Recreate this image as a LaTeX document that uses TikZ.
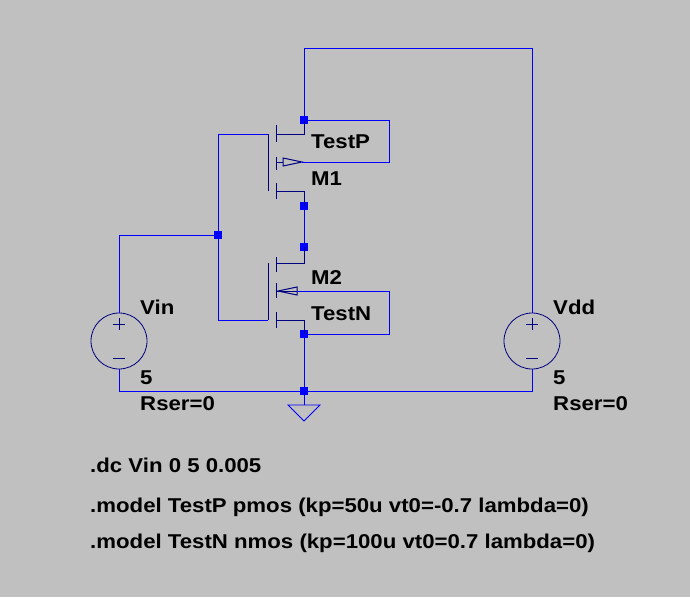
\documentclass[tikz,border=0pt]{standalone}
\usepackage{fontspec}
\setmainfont{Liberation Sans}
\begin{document}
\begin{tikzpicture}[x=1pt,y=-1pt,
  wire/.style={draw=wireblue,line width=1pt},
  sym/.style={draw=symblue,line width=1pt},
  dot/.style={fill=wireblue,minimum size=8pt,inner sep=0,draw=none,rectangle},
  lbl/.style={font=\bfseries\fontsize{20}{22}\selectfont,anchor=west,inner sep=0,xscale=1.11},
  src/.style={circle,draw=symblue,line width=0.8pt,minimum size=56pt,inner sep=0}]
\definecolor{wireblue}{RGB}{0,0,255}
\definecolor{symblue}{RGB}{0,0,128}
\definecolor{bg}{RGB}{192,192,192}
\fill[bg] (0,0) rectangle (690,597);
\useasboundingbox (0,0) rectangle (690,597);
% dots
\node[dot] (pd) at (304,120) {};
\node[dot] (ps) at (304,206) {};
\node[dot] (nd) at (304,247) {};
\node[dot] (ns) at (304,334) {};
\node[dot] (g) at (218,235) {};
\node[dot] (gnd) at (304,391) {};
\node[src] (vin) at (119,341) {};
\node[src] (vdd) at (532,341) {};
\coordinate (gndt) at (304,405);
% PMOS symbol
\draw[sym] (268,134) -- (268,191);
\draw[sym] (276,125) -- (276,142) (276,157) -- (276,170) (276,183) -- (276,199);
\draw[sym] (276,134) -- (304,134) -- (pd.center);
\draw[sym] (276,191) -- (304,191) -- (ps.center);
\draw[sym] (276,162) -- (283,162);
\draw[sym] (283,158) -- (283,166) -- (302,162) -- cycle;
% NMOS symbol
\draw[sym] (268,263) -- (268,320);
\draw[sym] (276,257) -- (276,272) (276,283) -- (276,298) (276,312) -- (276,328);
\draw[sym] (276,263) -- (304,263) -- (nd.center);
\draw[sym] (276,320) -- (304,320) -- (ns.center);
\draw[sym] (276,291) -- (297,291);
\draw[sym] (297,287) -- (297,295) -- (278,291) -- cycle;
% wires
\draw[wire] (pd.center) -- (304,48) -- (532,48) -- (vdd.north);
\draw[wire] (pd.center) -- (389,120) -- (389,162) -- (302,162);
\draw[wire] (ps.center) -- (nd.center);
\draw[wire] (297,291) -- (389,291) -- (389,334) -- (ns.center);
\draw[wire] (ns.center) -- (gnd.center);
\draw[wire] (268,134) -- (218,134) -- (218,320) -- (268,320);
\draw[wire] (g.center) -- (119,235) -- (vin.north);
\draw[wire] (vin.south) -- (119,391) -- (532,391) -- (vdd.south);
\draw[wire] (gnd.center) -- (gndt);
\draw[wire,line width=0.8pt] (288,405) -- (320,405) -- (304,421) -- cycle;
% source signs
\foreach \s in {vin,vdd}{
  \draw[sym,line width=0.8pt] ([yshift=23]\s.center) -- ++(0,12) ([xshift=-6,yshift=17]\s.center) -- ++(12,0);
  \draw[sym,line width=0.8pt] ([xshift=-6,yshift=-17]\s.center) -- ++(12,0);
}
% labels
\node[lbl] (l1) at (311,142) {TestP};
\node[lbl] (l2) at (311,179) {M1};
\node[lbl] (l3) at (311,278) {M2};
\node[lbl] (l4) at (311,314) {TestN};
\node[lbl] (l5) at (140,307) {Vin};
\node[lbl] (l6) at (140,378) {5};
\node[lbl] (l7) at (140,404) {Rser=0};
\node[lbl] (l8) at (553,307) {Vdd};
\node[lbl] (l9) at (553,378) {5};
\node[lbl] (l10) at (553,404) {Rser=0};
\node[lbl] (d1) at (90,465) {.dc Vin 0 5 0.005};
\node[lbl] (d2) at (90,507) {.model TestP pmos (kp=50u vt0=-0.7 lambda=0)};
\node[lbl] (d3) at (90,543) {.model TestN nmos (kp=100u vt0=0.7 lambda=0)};
\end{tikzpicture}
\end{document}
